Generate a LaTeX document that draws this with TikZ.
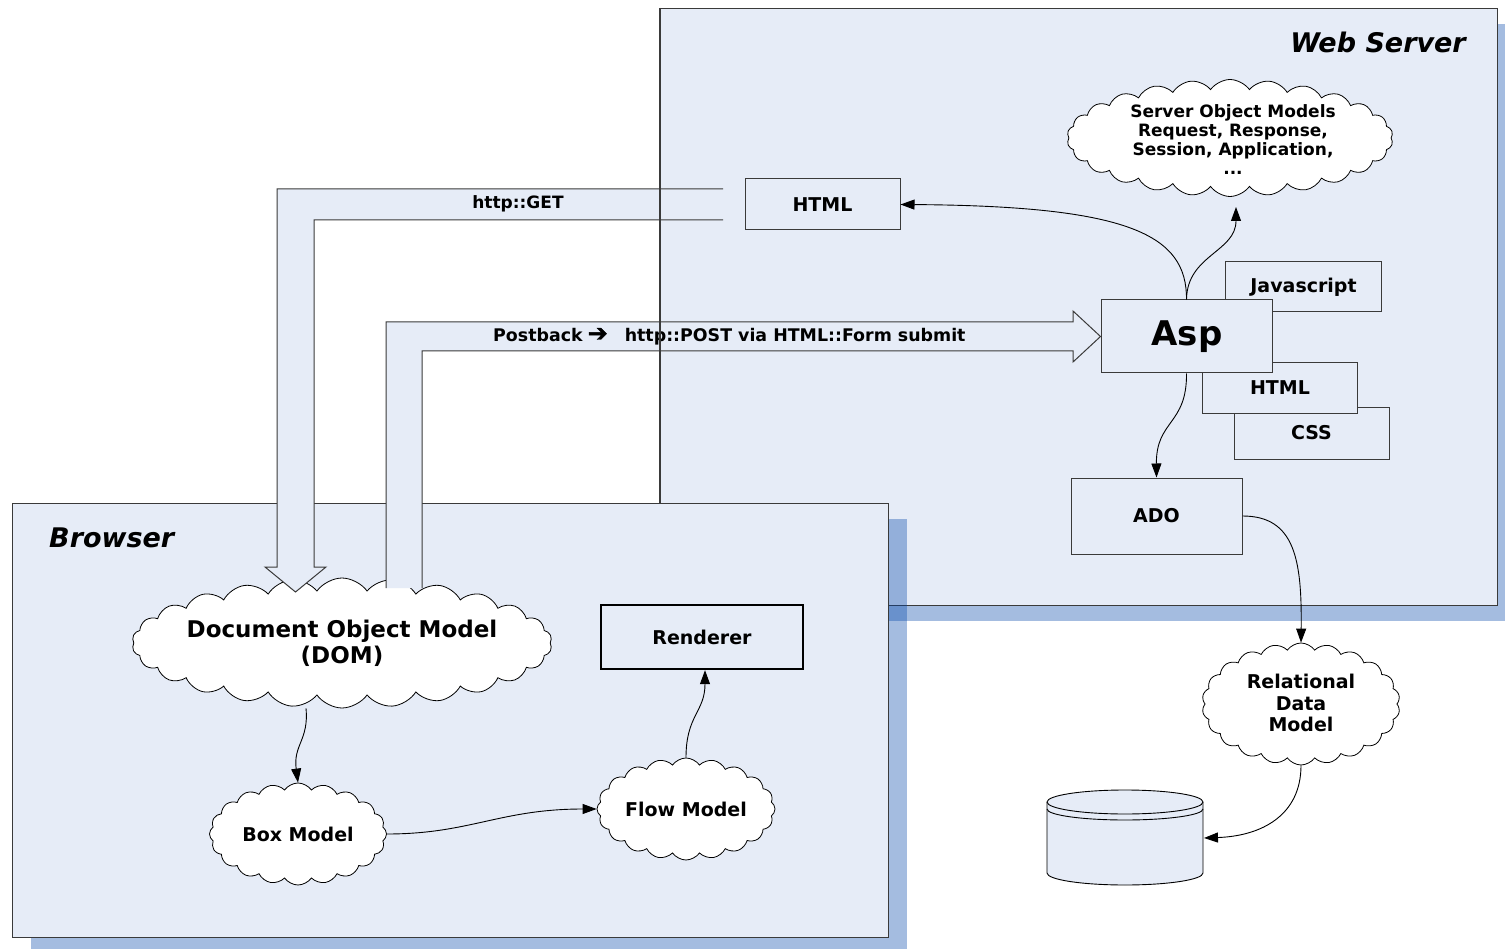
\documentclass[tikz,border=0pt]{standalone}
\usepackage{fontspec}
\setmainfont{DejaVu Sans}
\newfontfamily\symfont[FakeBold=2]{DejaVu Sans}
\usetikzlibrary{shapes.symbols,arrows.meta}
\definecolor{boxfill}{HTML}{E6ECF7}
\definecolor{edgecol}{HTML}{3A3A3A}
\definecolor{shade}{RGB}{2,69,169}
\begin{document}
\begin{tikzpicture}[x=1pt,y=-1pt,
  container/.style={draw=edgecol, line width=1.2pt, fill=boxfill, anchor=north west, inner sep=0pt},
  shadowbox/.style={fill=shade, fill opacity=0.36},
  box/.style={draw=edgecol, line width=1pt, fill=boxfill, inner sep=0pt},
  lbl/.style={font=\bfseries\fontsize{19}{22}\selectfont, text=black, align=center, inner sep=0pt},
  small/.style={font=\bfseries\fontsize{17}{19}\selectfont, text=black, align=center, inner sep=0pt},
  title/.style={font=\bfseries\itshape\fontsize{27}{30}\selectfont, text=black, inner sep=0pt},
  cloudy/.style={cloud, cloud puffs=#1, cloud puff arc=110, cloud ignores aspect, draw=black, fill=white, line width=0.8pt, inner sep=0pt},
  conn/.style={draw=black, line width=0.9pt, -{Triangle[length=14pt,width=10pt]}},
  blockfill/.style={fill=boxfill},
  blockedge/.style={draw=edgecol, line width=1pt, line join=miter}
]
\useasboundingbox (0,0) rectangle (1505,949);
\clip (0,0) rectangle (1505,949);

% ---------- Web server container ----------
\fill[shadowbox] (678,24) rectangle (1520,621);
\node[container, minimum width=837pt, minimum height=597pt] (ws) at (660,8) {};
\node[title, anchor=east] (wslbl) at (1466,42) {Web Server};

% ---------- Browser container ----------
\fill[shadowbox] (31,519) rectangle (907,955);
\node[container, minimum width=876pt, minimum height=434pt] (br) at (12,503) {};
\node[title, anchor=west] (brlbl) at (49,538) {Browser};

% ---------- Browser contents ----------
\node[cloudy=26, minimum width=420pt, minimum height=130pt] (dom) at (342,643) {};
\node[font=\bfseries\fontsize{23}{26}\selectfont, align=center, inner sep=0pt] (domlbl) at (342,643) {Document Object Model\\(DOM)};
\node[cloudy=20, minimum width=177pt, minimum height=102pt] (boxm) at (298,834) {};
\node[lbl] (boxlbl) at (298,834) {Box Model};
\node[cloudy=20, minimum width=178pt, minimum height=102pt] (flow) at (686,809) {};
\node[lbl] (flowlbl) at (686,809) {Flow Model};
\node[draw=black, line width=2.4pt, fill=boxfill, minimum width=202pt, minimum height=64pt, inner sep=0pt] (rend) at (702,637) {};
\node[lbl] (rendlbl) at (702,637) {Renderer};

% ---------- Server contents ----------
\node[cloudy=26, minimum width=326pt, minimum height=117pt] (soc) at (1230,138) {};
\node[small] (soclbl) at (1233,140) {Server Object Models\\Request, Response,\\Session, Application,\\...};
\node[box, minimum width=155pt, minimum height=51pt] (html1) at (822.5,204.5) {};
\node[lbl] (html1lbl) at (822.5,204.5) {HTML};
\node[box, minimum width=156pt, minimum height=50pt] (js) at (1303.5,287) {};
\node[lbl] (jslbl) at (1303.5,287) {Javascript};
\node[box, minimum width=155pt, minimum height=51pt] (css) at (1311.5,433.5) {};
\node[lbl] (csslbl) at (1311.5,432.5) {CSS};
\node[box, minimum width=155pt, minimum height=51pt] (html2) at (1280,388.5) {};
\node[lbl] (html2lbl) at (1280,388) {HTML};
\node[box, minimum width=171pt, minimum height=73pt] (asp) at (1186.5,336.5) {};
\node[font=\bfseries\fontsize{34}{36}\selectfont, inner sep=0pt] (asplbl) at (1187,337) {Asp};
\node[box, minimum width=171pt, minimum height=76pt] (ado) at (1156.5,516) {};
\node[lbl] (adolbl) at (1156.5,516) {ADO};

% ---------- Outside: relational model and database ----------
\node[cloudy=22, minimum width=198pt, minimum height=122pt] (rdm) at (1301,704) {};
\node[lbl, font=\bfseries\fontsize{19}{21.5}\selectfont] (rdmlbl) at (1301,703) {Relational\\Data\\Model};

\filldraw[fill=boxfill, draw=black, line width=0.9pt]
  (1047,802) -- (1047,873) arc[start angle=180, end angle=0, x radius=78, y radius=12]
  -- (1203,802) arc[start angle=0, end angle=-180, x radius=78, y radius=12] -- cycle;
\draw[black, line width=0.9pt] (1047,802) arc[start angle=180, end angle=0, x radius=78, y radius=12];
\draw[black, line width=0.9pt] (1047,809) arc[start angle=180, end angle=0, x radius=78, y radius=11];
\coordinate (dbin) at (1204,838);
\coordinate (socin) at (1236,207);

% ---------- Block arrows ----------
\fill[blockfill] (723,189) -- (277,189) -- (277,567) -- (265,567) -- (295.5,592) -- (326,567) -- (314,567) -- (314,220) -- (723,220) -- cycle;
\draw[blockedge] (723,189) -- (277,189) -- (277,567) -- (265,567) -- (295.5,592) -- (326,567) -- (314,567) -- (314,220) -- (723,220);
\node[small] (getlbl) at (518,203.5) {http::GET};

\fill[blockfill] (386,588) -- (386,322) -- (1073,322) -- (1073,311) -- (asp.west) -- (1073,362) -- (1073,351) -- (422,351) -- (422,588) -- cycle;
\draw[blockedge] (386,588) -- (386,322) -- (1073,322) -- (1073,311) -- (asp.west) -- (1073,362) -- (1073,351) -- (422,351) -- (422,588);
\node[small, anchor=west, font=\bfseries\fontsize{17.4}{19}\selectfont] (postlbl) at (493,336.5) {Postback\hspace{5pt}{\symfont\fontsize{24}{24}\selectfont ➔}\hspace{17pt}http::POST via HTML::Form submit};

% web server left border visible above the arrows
\draw[edgecol, line width=1.2pt] (ws.north west) -- (ws.west |- br.north);

% ---------- Connectors ----------
\draw[conn] (asp.north) .. controls (1187,235) and (1130,206) .. (html1.east);
\draw[conn] (asp.north) .. controls (1187,255) and (1236,252) .. (socin);
\draw[conn] (asp.south) .. controls (1187,425) and (1156,420) .. (ado.north);
\draw[conn] (ado.east) .. controls (1295,516) and (1302,560) .. (rdm.north);
\draw[conn] (rdm.south) .. controls (1301,815) and (1262,836) .. (dbin);
\draw[conn] ([xshift=-36pt]dom.south) .. controls (309,740) and (293,745) .. (boxm.north);
\draw[conn] (boxm.east) .. controls (470,834) and (500,809) .. (flow.west);
\draw[conn] (flow.north) .. controls (686,715) and (705,712) .. ([xshift=3pt]rend.south);
\end{tikzpicture}
\end{document}
